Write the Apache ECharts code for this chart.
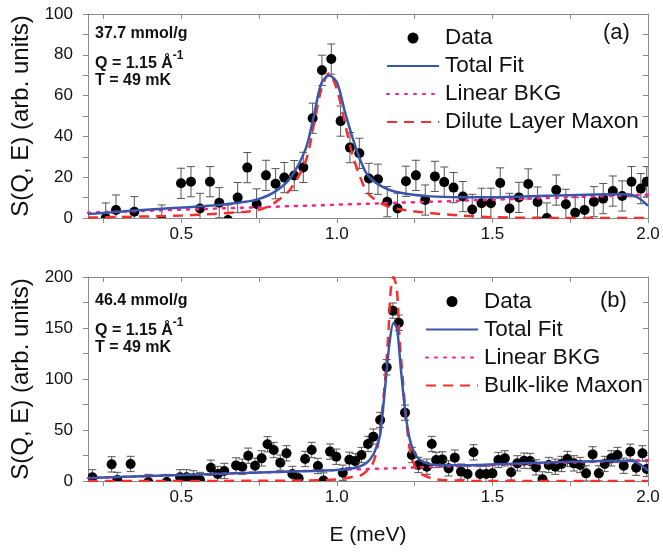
<!DOCTYPE html>
<html><head><meta charset="utf-8">
<script src="https://cdn.jsdelivr.net/npm/echarts@6/dist/echarts.min.js"></script>
<style>html,body{margin:0;padding:0;background:#fff}#c{width:663px;height:554px}</style>
</head><body><div id="c"></div>
<script>
// ---------- Panel (a) data ----------
const Ea = [0.257,0.29,0.349,0.437,0.499,0.531,0.56,0.592,0.622,0.65,0.681,0.712,0.742,0.772,0.803,0.831,0.863,0.892,0.922,0.952,0.982,1.012,1.042,1.072,1.103,1.132,1.162,1.195,1.222,1.254,1.284,1.315,1.345,1.375,1.405,1.435,1.465,1.495,1.525,1.555,1.585,1.615,1.645,1.675,1.705,1.736,1.766,1.796,1.826,1.856,1.887,1.917,1.947,1.977,1.996];
const Va = [0,3.9,3.1,-1,17,17.8,4.7,17.8,7.5,-1,10,24.7,6.9,20.9,16.8,19.8,20.8,24.8,48.9,72.4,77.9,47.5,34.5,31.7,19.4,19.0,8.0,4.7,18,20.9,8.8,20.4,17.6,14.9,10.5,4.2,7.2,7.2,17.2,4.7,10.1,16.7,7.8,0,13.7,6.7,2.6,3.9,8.0,9.5,13.2,10.8,17.8,14.4,17.8];
const errA = 7.4;
const curveEa = [0.2,0.3,0.4,0.5,0.6,0.7,0.75,0.8,0.85,0.9,0.925,0.95,0.975,1.0,1.025,1.05,1.075,1.1,1.15,1.2,1.3,1.4,1.5,1.6,1.7,1.8,1.9,1.94,1.97,2.0];
const totalA = [1.9,3.1,4.2,5.1,6.1,7.8,9.4,12.8,19.5,34,49.5,66,69.8,66.5,52.5,39.5,28.5,20.8,15,12.5,10.6,10.2,10.2,10.6,11.0,11.4,11.6,11.5,9.8,6.0];
const maxonA = [0.2,0.5,0.8,1.2,2.0,3.0,4.0,7.5,14,28,45,63,70.9,63,47,31,20,12,6.5,4.3,2.4,1.2,0.4,0.1,0,0,0,0,0,0];
const bkgEa = [0.2, 2.0];
const bkgA = [2.6, 11.4];

// ---------- Panel (b) data ----------
const Eb = [0.214,0.276,0.294,0.337,0.394,0.453,0.496,0.517,0.539,0.56,0.595,0.617,0.638,0.676,0.696,0.715,0.737,0.758,0.777,0.797,0.818,0.838,0.857,0.877,0.898,0.919,0.939,0.957,0.978,0.998,1.019,1.04,1.059,1.079,1.1,1.117,1.139,1.16,1.18,1.199,1.219,1.241,1.262,1.289,1.305,1.319,1.339,1.359,1.379,1.399,1.42,1.439,1.46,1.48,1.5,1.519,1.54,1.56,1.58,1.602,1.621,1.64,1.661,1.681,1.702,1.722,1.741,1.762,1.782,1.801,1.822,1.842,1.861,1.882,1.902,1.922,1.943,1.962,1.982,1.996];
const Vb = [3.6,16.3,1,16.7,-1,-1,3.6,3.6,2.6,1,13,6.9,9.8,15.3,14,24.8,15,22.2,36,30.4,18,27.1,6.9,2.6,21.6,30.4,14.7,0.5,28.8,23.8,8.1,20.8,19.5,25.5,36.3,43.5,59.8,111.5,167,155.2,67,25.5,15.7,14,36.3,20.6,21.2,12.4,22.9,9.2,6.9,28.1,6.9,6.9,7.5,20.6,22.2,8.5,17.3,19.9,19.6,13.4,1.6,15.7,14,16.7,21.6,17.3,15.7,7.5,26.1,7.5,16.7,22.2,25.5,15,28.7,13,27.1,11.8];
const errB = 7.5;
const curveEb = [0.2,0.5,0.8,1.0,1.05,1.08,1.1,1.117,1.13,1.14,1.155,1.169,1.182,1.193,1.205,1.219,1.235,1.257,1.289,1.321,1.4,1.5,1.6,1.7,1.8,1.9,1.95,1.98,2.0];
const totalB = [3.0,5.9,8.8,10.8,12.5,15,19,26,36,47,92,135,155,150,112,70,40,23.8,17.3,15.7,15.5,16.3,17.3,18.3,19.2,19.8,19.6,15,10];
const maxonEb = [0.2,0.8,0.9,1.0,1.05,1.08,1.1,1.115,1.13,1.14,1.155,1.166,1.173,1.182,1.193,1.201,1.212,1.222,1.235,1.25,1.265,1.29,1.32,1.4,1.5,2.0];
const maxonB = [0,0.2,0.5,1.5,4,6,11,17,32,53,99,148,187,200,187,141,99,63,30,15,8,4.2,1.5,0.3,0,0];
const bkgEb = [0.2, 2.0];
const bkgB = [3.0, 20.5];

// ---------- Axis ticks / labels ----------
const xTickVals = [0.25,0.5,0.75,1.0,1.25,1.5,1.75,2.0];
const xLabelVals = [0.5,1.0,1.5,2.0];
const yMaxA = 100, yStepA = 20;
const yMaxB = 200, yStepB = 50;

const zip = (xs, ys) => xs.map((x, i) => [x, ys[i]]);
const FONT = '"Liberation Sans", Arial, sans-serif';
const AX = '#8a8a8a';
const BLUE = '#3b56a9', RED = '#f2302e', PINK = '#f5228f';

function xAxes(grid) {
  return [
    { type:'value', gridIndex:grid, min:0.2, max:2.0, position:'bottom',
      axisLine:{onZero:false, lineStyle:{color:AX, width:1}},
      axisTick:{customValues:xTickVals, inside:false, length:5, lineStyle:{color:AX}},
      axisLabel:{customValues:xLabelVals, formatter:v=>v.toFixed(1), fontSize:17, color:'#111', margin:8, fontFamily:FONT},
      splitLine:{show:false},
      name: grid===1 ? 'E (meV)' : '', nameLocation:'middle', nameGap:44,
      nameTextStyle:{fontSize:21, color:'#111', fontFamily:FONT} },
    { type:'value', gridIndex:grid, min:0.2, max:2.0, position:'top',
      axisLine:{onZero:false, lineStyle:{color:AX, width:1}},
      axisTick:{customValues:xTickVals, inside:true, length:5, lineStyle:{color:AX}},
      axisLabel:{show:false}, splitLine:{show:false} }
  ];
}
function yAxes(grid, max, step) {
  return [
    { type:'value', gridIndex:grid, min:0, max:max, interval:step, position:'left',
      axisLine:{show:true, onZero:false, lineStyle:{color:AX, width:1}},
      axisTick:{show:true, inside:false, length:5, lineStyle:{color:AX}},
      minorTick:{show:true, splitNumber:2, length:5, lineStyle:{color:AX}},
      axisLabel:{fontSize:17, color:'#111', margin:15, fontFamily:FONT},
      splitLine:{show:false}, minorSplitLine:{show:false},
      name:'S(Q, E) (arb. units)', nameLocation:'middle', nameGap:55, nameRotate:90,
      nameTextStyle:{fontSize:24, color:'#111', fontFamily:FONT} },
    { type:'value', gridIndex:grid, min:0, max:max, interval:step, position:'right',
      axisLine:{show:true, onZero:false, lineStyle:{color:AX, width:1}},
      axisTick:{show:true, inside:true, length:5, lineStyle:{color:AX}},
      minorTick:{show:true, splitNumber:2, length:5, lineStyle:{color:AX}},
      axisLabel:{show:false}, splitLine:{show:false} }
  ];
}

function renderErr(err) {
  return function (params, api) {
    const x = api.value(0), y = api.value(1);
    const c = api.coord([x, y]);
    const lo = api.coord([x, y - err]);
    const hi = api.coord([x, y + err]);
    const cap = 4;
    const st = {stroke:'#555', lineWidth:1};
    return { type:'group', children:[
      {type:'line', shape:{x1:c[0], y1:lo[1], x2:c[0], y2:hi[1]}, style:st},
      {type:'line', shape:{x1:c[0]-cap, y1:hi[1], x2:c[0]+cap, y2:hi[1]}, style:st},
      {type:'line', shape:{x1:c[0]-cap, y1:lo[1], x2:c[0]+cap, y2:lo[1]}, style:st},
      {type:'circle', shape:{cx:c[0], cy:c[1], r:5}, style:{fill:'#000'}}
    ]};
  };
}
function lineSeries(name, xi, yi, data, color, type, smooth) {
  return { type:'line', name, xAxisIndex:xi, yAxisIndex:yi, data, symbol:'none',
    smooth: smooth, clip:true, z:3,
    lineStyle:{color, width:2.5, type, cap: Array.isArray(type) && type[0] < 4 ? 'round' : 'butt'},
    itemStyle:{color} };
}

const chart = echarts.init(document.getElementById('c'), null, {renderer:'canvas'});
const legendCommon = {
  orient:'vertical', padding:0, itemGap:5, itemWidth:52, itemHeight:11,
  textStyle:{fontSize:22.5, color:'#111', fontFamily:FONT, padding:[0,0,0,1]},
  itemStyle:{opacity:0},
  selectedMode:false
};
const dataItem = {name:'Data', icon:'circle', itemStyle:{opacity:1, color:'#000'}};
const annot = (left, top, lines) => lines.map((t, i) => ({
  type:'text', left, top: top[i],
  style:{ text:t, fill:'#111', font:'bold 16px ' + FONT,
    rich:{ n:{fontSize:16, fontWeight:'bold', fontFamily:FONT, fill:'#111', lineHeight:22, verticalAlign:'bottom'},
           s:{fontSize:12, fontWeight:'bold', fontFamily:FONT, fill:'#111', lineHeight:12, verticalAlign:'top'} } }
}));

chart.setOption({
  animation:false,
  backgroundColor:'#fff',
  grid:[
    {left:88, right:15, top:14, height:204},
    {left:88, right:15, top:277, height:204}
  ],
  xAxis:[...xAxes(0), ...xAxes(1)],
  yAxis:[...yAxes(0, yMaxA, yStepA), ...yAxes(1, yMaxB, yStepB)],
  legend:[
    Object.assign({}, legendCommon, {left:386, top:26.5,
      data:[dataItem, 'Total Fit', 'Linear BKG', 'Dilute Layer Maxon']}),
    Object.assign({}, legendCommon, {left:425, top:290,
      data:[dataItem, 'Total Fit', 'Linear BKG', 'Bulk-like Maxon']})
  ],
  graphic:[
    {type:'text', left:603, top:22, style:{text:'(a)', font:'22px ' + FONT, fill:'#111'}},
    {type:'text', left:600, top:290, style:{text:'(b)', font:'22px ' + FONT, fill:'#111'}},
    ...annot(95, [26, 50, 73], ['{n|37.7 mmol/g}', '{n|Q = 1.15 Å}{s|-1}', '{n|T = 49 mK}']),
    ...annot(95, [293, 317, 340], ['{n|46.4 mmol/g}', '{n|Q = 1.15 Å}{s|-1}', '{n|T = 49 mK}'])
  ],
  series:[
    { type:'custom', name:'Data', xAxisIndex:0, yAxisIndex:0, data:zip(Ea, Va),
      renderItem:renderErr(errA), clip:true, z:2, itemStyle:{color:'#000'}, encode:{x:0, y:1} },
    lineSeries('Linear BKG', 0, 0, zip(bkgEa, bkgA), PINK, [2,7], false),
    lineSeries('Dilute Layer Maxon', 0, 0, zip(curveEa, maxonA), RED, [10,7], 0.3),
    lineSeries('Total Fit', 0, 0, zip(curveEa, totalA), BLUE, 'solid', 0.3),

    { type:'custom', name:'Data', xAxisIndex:2, yAxisIndex:2, data:zip(Eb, Vb),
      renderItem:renderErr(errB), clip:true, z:2, itemStyle:{color:'#000'}, encode:{x:0, y:1} },
    lineSeries('Linear BKG', 2, 2, zip(bkgEb, bkgB), PINK, [2,7], false),
    lineSeries('Bulk-like Maxon', 2, 2, zip(maxonEb, maxonB), RED, [10,7], 0.3),
    lineSeries('Total Fit', 2, 2, zip(curveEb, totalB), BLUE, 'solid', 0.3)
  ]
});
</script></body></html>
